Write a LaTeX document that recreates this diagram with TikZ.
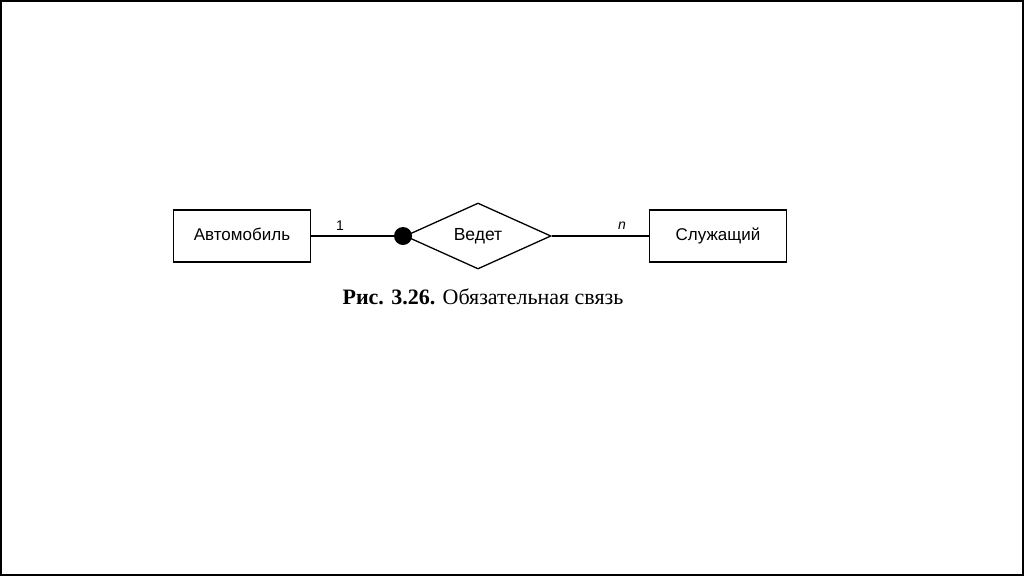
\documentclass[tikz,border=0pt]{standalone}
\usepackage{fontspec}
\setmainfont{Liberation Serif}
\setsansfont{Liberation Sans}
\usetikzlibrary{shapes.geometric}

\tikzset{
  entity/.style={draw, rectangle, line width=1.3pt, minimum width=137pt, minimum height=52pt,
    inner sep=0pt, text height=12pt, text depth=3pt, font=\sffamily\fontsize{17}{20}\selectfont},
  relation/.style={draw, diamond, line width=1.3pt, aspect=2.2, minimum width=146pt,
    minimum height=66pt, inner sep=0pt, text height=12pt, text depth=3pt,
    font=\sffamily\fontsize{17.5}{20}\selectfont},
  card/.style={font=\sffamily\fontsize{14}{16}\selectfont},
}

\begin{document}
\begin{tikzpicture}[x=1pt,y=-1pt]
      \useasboundingbox (0,0) rectangle (1024,576);
      \draw[line width=2pt] (1,1) rectangle (1023,575);

      \node[entity] (car) at (242,236) {Автомобиль};
      \node[relation] (drives) at (478,236) {Ведет};
      \node[entity] (emp) at (718,236) {Служащий};
      \node[circle, fill, inner sep=0pt, minimum size=18pt] (dot) at (403,236) {};

      \node[card] (one) at (340,226) {1};
      \node[card] (many) at (622,226) {\itshape n};

      \node[font=\fontsize{22}{26}\selectfont] (caption) at (483,297)
        {\textbf{Рис. 3.26.} Обязательная связь};

      \foreach \from/\to in {car/dot,drives/emp}
        \draw[line width=1.3pt] (\from) -- (\to);
    \end{tikzpicture}
\end{document}
